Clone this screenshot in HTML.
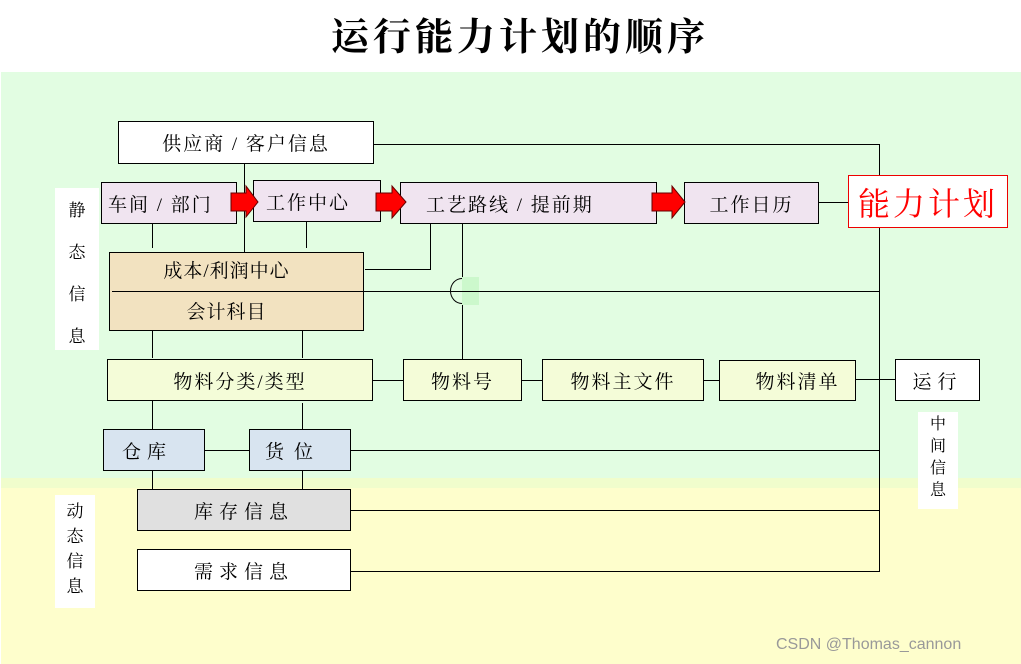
<!DOCTYPE html>
<html><head><meta charset="utf-8"><style>
body{margin:0;width:1021px;height:664px;position:relative;overflow:hidden;background:#fff;font-family:"Liberation Serif","Noto Serif CJK SC","Noto Sans CJK SC",serif;}
.a{position:absolute;box-sizing:border-box;}
.b{position:absolute;box-sizing:border-box;border:1.5px solid #000;display:flex;align-items:center;justify-content:center;font-size:19px;letter-spacing:2px;color:#000;}
.v{position:absolute;width:1px;background:#000;}
.h{position:absolute;height:1px;background:#000;}
.lab{position:absolute;background:#fff;font-size:17px;text-align:center;line-height:1.6;}
</style></head><body>
<div class="a" style="left:0;top:0;width:1021px;height:72px;background:#fff"></div>
<div class="a" style="left:0;top:6px;width:1040px;text-align:center;font-size:38px;font-weight:bold;letter-spacing:4px">运行能力计划的顺序</div>
<div class="a" style="left:1px;top:72px;width:1020px;height:406px;background:#e2fde2"></div>
<div class="a" style="left:1px;top:478px;width:1020px;height:10px;background:#f0fdcc"></div>
<div class="a" style="left:1px;top:488px;width:1020px;height:176px;background:#fefecc"></div>

<div class="h" style="left:373px;top:144px;width:506px"></div>
<div class="v" style="left:879px;top:144px;height:428px"></div>
<div class="v" style="left:244px;top:163px;height:89px"></div>
<div class="v" style="left:152px;top:223px;height:25px"></div>
<div class="v" style="left:306px;top:222px;height:26px"></div>
<div class="v" style="left:430px;top:223px;height:46px"></div>
<div class="h" style="left:365px;top:269px;width:66px"></div>
<div class="v" style="left:462px;top:223px;height:54px"></div>
<div class="v" style="left:462px;top:304px;height:56px"></div>
<div class="a" style="left:462px;top:277px;width:17px;height:28px;background:#ccf8cc"></div>
<div class="a" style="left:450px;top:278px;width:24px;height:26px;border:1.5px solid #000;border-radius:50%;clip-path:inset(0 50% 0 0)"></div>
<div class="h" style="left:818px;top:202px;width:30px"></div>
<div class="v" style="left:152px;top:330px;height:28px"></div>
<div class="v" style="left:302px;top:330px;height:28px"></div>
<div class="h" style="left:373px;top:380px;width:30px"></div>
<div class="h" style="left:521px;top:380px;width:21px"></div>
<div class="h" style="left:703px;top:380px;width:16px"></div>
<div class="h" style="left:855px;top:379px;width:40px"></div>
<div class="v" style="left:152px;top:401px;height:28px"></div>
<div class="v" style="left:302px;top:403px;height:26px"></div>
<div class="h" style="left:205px;top:450px;width:44px"></div>
<div class="h" style="left:351px;top:450px;width:528px"></div>
<div class="v" style="left:152px;top:471px;height:18px"></div>
<div class="v" style="left:302px;top:471px;height:18px"></div>
<div class="h" style="left:351px;top:510px;width:528px"></div>
<div class="h" style="left:351px;top:571px;width:528px"></div>

<div class="b" style="left:118px;top:121px;width:256px;height:43px;background:#fff">供应商 / 客户信息</div>
<div class="b" style="left:101px;top:182px;width:136px;height:42px;background:#f0e4f0;justify-content:flex-start;padding-left:6px">车间 / 部门</div>
<div class="b" style="left:253px;top:180px;width:128px;height:42px;background:#f0e4f0;justify-content:flex-start;padding-left:12px">工作中心</div>
<div class="b" style="left:400px;top:182px;width:257px;height:42px;background:#f0e4f0;justify-content:flex-start;padding-left:25px">工艺路线 / 提前期</div>
<div class="b" style="left:684px;top:182px;width:135px;height:42px;background:#f0e4f0">工作日历</div>
<div class="b" style="left:848px;top:175px;width:160px;height:53px;background:#fff;border-color:#e00;color:#f00;font-size:32px;letter-spacing:3px">能力计划</div>
<div class="a" style="left:109px;top:252px;width:255px;height:79px;background:#f2e2c0;border:1.5px solid #000"></div>
<div class="a" style="left:109px;top:256px;width:255px;text-align:center;font-size:19px;letter-spacing:1px;padding-right:20px">成本/利润中心</div>
<div class="a" style="left:109px;top:297px;width:255px;text-align:center;font-size:19px;letter-spacing:1px;padding-right:20px">会计科目</div>
<div class="h" style="left:112px;top:291px;width:767px"></div>
<div class="b" style="left:107px;top:359px;width:266px;height:42px;background:#f4fcd8">物料分类/类型</div>
<div class="b" style="left:403px;top:359px;width:119px;height:42px;background:#f4fcd8">物料号</div>
<div class="b" style="left:542px;top:359px;width:162px;height:42px;background:#f4fcd8">物料主文件</div>
<div class="b" style="left:719px;top:360px;width:137px;height:41px;background:#f4fcd8;padding-left:20px">物料清单</div>
<div class="b" style="left:895px;top:359px;width:85px;height:42px;background:#fff;letter-spacing:6px">运行</div>
<div class="b" style="left:103px;top:429px;width:102px;height:42px;background:#d8e4f0;letter-spacing:6px;padding-right:14px">仓库</div>
<div class="b" style="left:249px;top:429px;width:102px;height:42px;background:#d8e4f0;letter-spacing:10px;padding-right:12px">货位</div>
<div class="b" style="left:137px;top:489px;width:214px;height:42px;background:#e0e0e0;letter-spacing:6px">库存信息</div>
<div class="b" style="left:137px;top:549px;width:214px;height:42px;background:#fff;letter-spacing:6px">需求信息</div>

<svg class="a" style="left:0;top:0" width="1021" height="664">
<polygon points="231,193 246,193 246,186 258,202 246,217 246,211 231,211" fill="#f00" stroke="#600" stroke-width="1"/>
<polygon points="376,193 392,193 392,186 406,202 392,218 392,211 376,211" fill="#f00" stroke="#600" stroke-width="1"/>
<polygon points="652,193 672,193 672,186 685,202 672,218 672,211 652,211" fill="#f00" stroke="#600" stroke-width="1"/>
</svg>

<div class="lab" style="left:55px;top:188px;width:44px;height:160px;padding-top:2px;line-height:42px">静<br>态<br>信<br>息</div>
<div class="lab" style="left:918px;top:412px;width:40px;height:95px;font-size:16px;line-height:22px;padding-top:2px">中<br>间<br>信<br>息</div>
<div class="lab" style="left:55px;top:495px;width:40px;height:109px;line-height:25px;padding-top:4px">动<br>态<br>信<br>息</div>
<div class="a" style="left:776px;top:636px;font-family:'Liberation Sans',sans-serif;font-size:16px;color:#999">CSDN @Thomas_cannon</div>
</body></html>
